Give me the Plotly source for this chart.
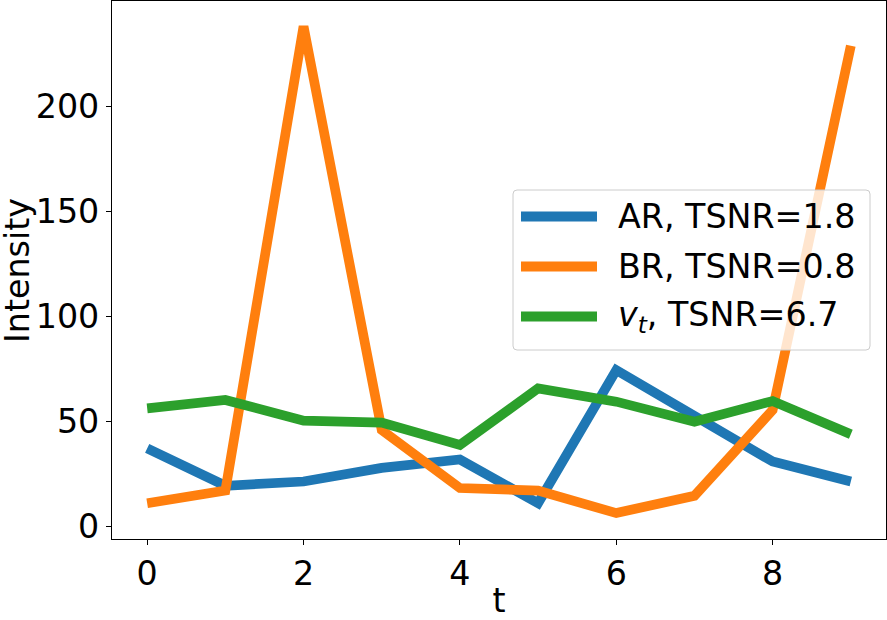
import plotly.graph_objects as go

t = list(range(10))
ar = [37.3, 19.5, 21.5, 28.0, 32.0, 11.2, 74.5, 53.0, 31.0, 21.5]
br = [11.2, 17.2, 238.0, 46.0, 18.4, 17.2, 6.5, 14.7, 55.5, 228.8]
vt = [56.3, 60.3, 50.5, 49.5, 38.9, 65.8, 59.5, 50.0, 59.8, 44.0]

names = ["AR, TSNR=1.8", "BR, TSNR=0.8", "<i>v<sub>t</sub></i>, TSNR=6.7"]
colors = ["#1f77b4", "#ff7f0e", "#2ca02c"]
series = [ar, br, vt]

x_ticks = [0, 2, 4, 6, 8]
y_ticks = [0, 50, 100, 150, 200]
x_title = "t"
y_title = "Intensity"

FONT = "DejaVu Sans"
FS = 33.3
W, H = 887, 620
ML, MR, MT, MB = 112, 1, 1, 81
PW, PH = W - ML - MR, H - MT - MB

fig = go.Figure()
for ys, c, n in zip(series, colors, names):
    fig.add_trace(go.Scatter(x=t, y=ys, mode="lines", name=n,
                             line=dict(color=c, width=9.7), showlegend=False))

def px(x):
    return (x - ML) / PW

def py(y):
    return 1 - (y - MT) / PH

# custom legend (matplotlib style)
bx0, bx1, by0, by1 = px(513), px(870), py(350), py(190)
rx, ry = 4 / PW, 4 / PH
path = (f"M{bx0+rx},{by0} L{bx1-rx},{by0} Q{bx1},{by0} {bx1},{by0+ry} "
        f"L{bx1},{by1-ry} Q{bx1},{by1} {bx1-rx},{by1} L{bx0+rx},{by1} "
        f"Q{bx0},{by1} {bx0},{by1-ry} L{bx0},{by0+ry} Q{bx0},{by0} {bx0+rx},{by0} Z")
shapes = [dict(type="path", path=path, xref="paper", yref="paper",
               fillcolor="rgba(255,255,255,0.8)", line=dict(color="#cccccc", width=1),
               layer="above")]
annotations = []
rows = [216.5, 266.5, 316.5]
for r, c, n in zip(rows, colors, names):
    shapes.append(dict(type="line", xref="paper", yref="paper",
                       x0=px(521), x1=px(597), y0=py(r), y1=py(r),
                       line=dict(color=c, width=10), layer="above"))
    annotations.append(dict(text=n, xref="paper", yref="paper", x=px(616), y=py(r),
                            xanchor="left", yanchor="middle", showarrow=False,
                            font=dict(family=FONT, size=FS, color="black")))

# y-axis title placed like matplotlib's
annotations.append(dict(text=y_title, xref="paper", yref="paper", x=px(17), y=py(271),
                        xanchor="center", yanchor="middle", textangle=-90, showarrow=False,
                        font=dict(family=FONT, size=FS, color="black")))

axis_common = dict(showline=True, linecolor="black", linewidth=1.1, mirror=True,
                   ticks="outside", ticklen=5, tickwidth=1.1, tickcolor="black",
                   showgrid=False, zeroline=False,
                   tickfont=dict(family=FONT, size=FS, color="black"))

fig.update_layout(
    width=W, height=H,
    margin=dict(l=ML, r=MR, t=MT, b=MB),
    plot_bgcolor="white", paper_bgcolor="white",
    showlegend=False,
    shapes=shapes, annotations=annotations,
    xaxis=dict(range=[-0.45, 9.45], tickvals=x_ticks,
               title=dict(text=x_title, font=dict(family=FONT, size=FS, color="black"), standoff=2),
               **axis_common),
    yaxis=dict(range=[-5.84, 250.1], tickvals=y_ticks, **axis_common),
)

fig.write_html("out.html", config={"displayModeBar": False},
               post_script="document.body.style.margin='0';document.body.style.overflow='hidden';")
